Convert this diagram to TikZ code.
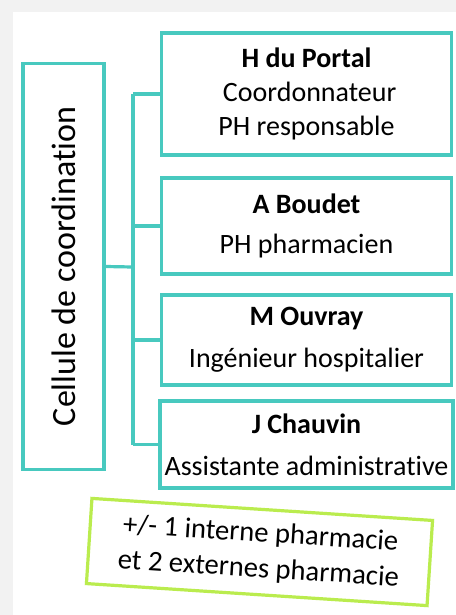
\documentclass[tikz,border=0pt]{standalone}
\usepackage{fontspec}
\setmainfont{Carlito}[Ligatures=NoCommon]
\usepackage{xcolor}
\usetikzlibrary{positioning,calc}

\definecolor{cellteal}{RGB}{72,201,191}
\definecolor{cellgreen}{RGB}{186,236,78}
\definecolor{pagegray}{RGB}{242,242,242}

\begin{document}
\begin{tikzpicture}[x=0.75pt,y=-0.75pt,
    member/.style={draw=cellteal,line width=2.4pt,minimum width=218pt,align=center,
      font=\fontsize{21}{25.5}\selectfont},
    link/.style={draw=cellteal,line width=2.4pt}]
    % Page
    \fill[pagegray] (0,0) rectangle (456,615);
    \fill[white] (13,12) rectangle (456,615);
    \useasboundingbox (0,0) rectangle (456,615);

    % Cellule
    \node[draw=cellteal,line width=2.4pt,minimum width=60.75pt,minimum height=305pt,
      font=\fontsize{25.5}{30}\selectfont] (cell) at (63.5,266.5)
      {\rotatebox{90}{Cellule de coordination}};

    % Members
    \node[member,minimum height=91.5pt] (portal) at (306.5,94)
      {\textbf{H du Portal}\\ \ Coordonnateur\\ PH responsable};
    \node[member,minimum height=72pt] (boudet) at (306.5,226)
      {\textbf{A Boudet}\\[4.5pt] PH pharmacien};
    \node[member,minimum height=67.5pt] (ouvray) at (306.5,340)
      {\textbf{M Ouvray}\\[6pt] Ingénieur hospitalier};
    \node[member,minimum height=65.25pt] (chauvin) at (306.5,444.5)
      {\textbf{J Chauvin}\\[6pt] Assistante administrative};

    % Links
    \coordinate (bus) at (133,267);
    \draw[link] (cell.east) -- (bus);
    \draw[link] (bus |- portal.west) -- (bus |- chauvin.west);
    \foreach \m in {portal,boudet,ouvray,chauvin}
      \draw[link] (bus |- \m.west) -- (\m.west);

    % Internes
    \node[draw=cellgreen,line width=2.4pt,minimum width=256pt,minimum height=64pt,
      align=center,rotate=-3.7,font=\fontsize{21.5}{25.5}\selectfont] (interne) at (259.5,552)
      {+/- 1 interne pharmacie\\[1pt] et 2 externes pharmacie};
\end{tikzpicture}
\end{document}
